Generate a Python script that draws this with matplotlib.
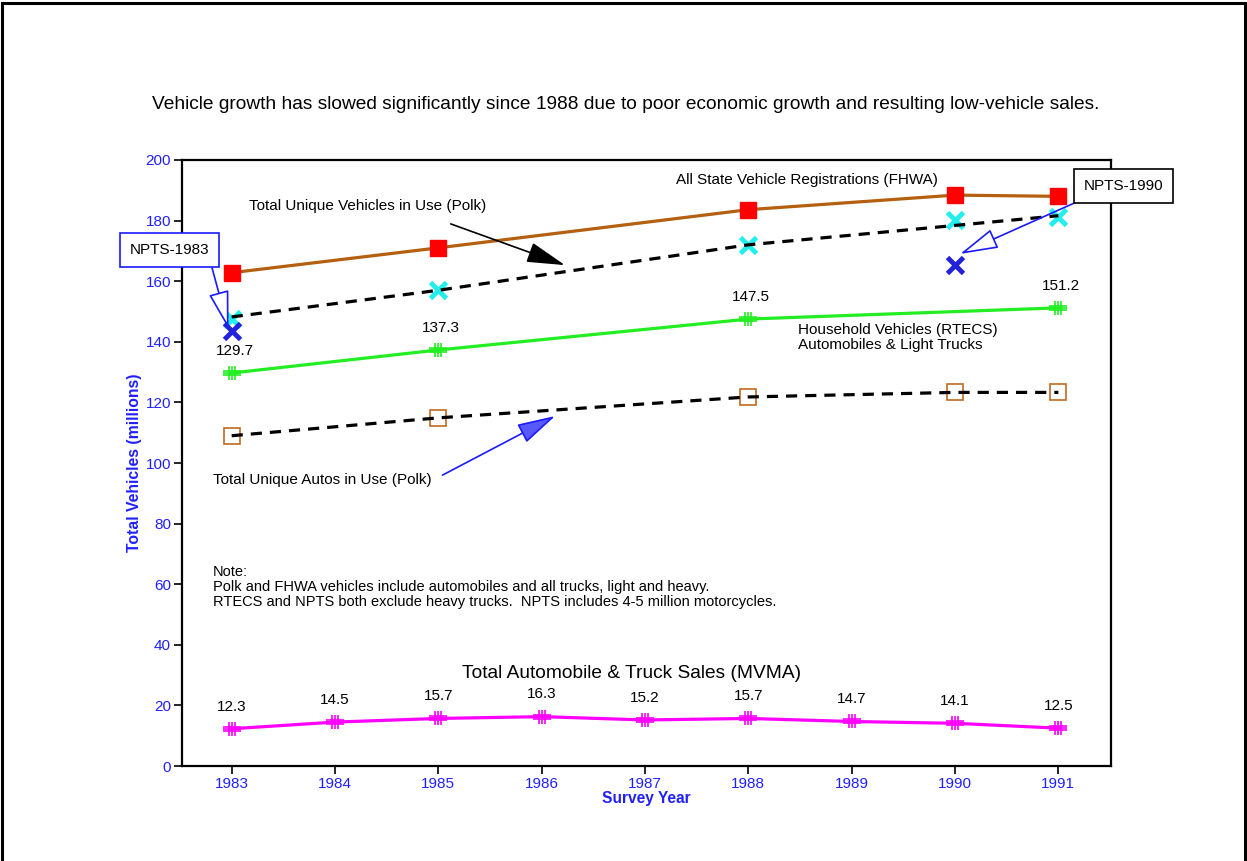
import matplotlib.pyplot as plt
from matplotlib.path import Path
from matplotlib.patches import Rectangle

plt.rcParams['font.family'] = ['Liberation Sans', 'DejaVu Sans']

years = [1983, 1984, 1985, 1986, 1987, 1988, 1989, 1990, 1991]

fhwa_years = [1983, 1985, 1988, 1990, 1991]
fhwa = [162.8, 171.0, 183.6, 188.4, 188.0]

polk_veh_years = [1983, 1985, 1988, 1990, 1991]
polk_veh = [147.6, 157.0, 172.0, 180.2, 181.3]
polk_veh_line_years = [1983, 1985, 1988, 1991]
polk_veh_line = [148.2, 157.0, 172.0, 181.6]

rtecs_years = [1983, 1985, 1988, 1991]
rtecs = [129.7, 137.3, 147.5, 151.2]

polk_auto_years = [1983, 1985, 1988, 1990, 1991]
polk_auto = [109.0, 114.9, 121.8, 123.3, 123.3]

npts_years = [1983, 1990]
npts = [143.7, 165.2]

sales = [12.3, 14.5, 15.7, 16.3, 15.2, 15.7, 14.7, 14.1, 12.5]

BLUE = '#2020ff'
FS = 11.0

# hash-like marker used for the RTECS and MVMA series
hv = [(-1, -0.25), (1, -0.25), (-1, 0), (1, 0), (-1, 0.25), (1, 0.25),
      (-0.3, -0.8), (-0.3, 0.8), (0, -0.8), (0, 0.8), (0.3, -0.8), (0.3, 0.8)]
hc = [Path.MOVETO, Path.LINETO] * 6
hash_marker = Path(hv, hc)

fig = plt.figure(figsize=(12.47, 8.61), dpi=100)
ax = fig.add_axes([0.146, 0.1103, 0.745, 0.7039])

ax.plot(fhwa_years, fhwa, '-', color='#b4600f', lw=2.3, zorder=3)
ax.plot(fhwa_years, fhwa, 's', color='#ff0000', ms=11, zorder=4)

ax.plot(polk_veh_line_years, polk_veh_line, '--', color='black', lw=2.3,
        dashes=(3.5, 2.5), zorder=3)
ax.plot(polk_veh_years, polk_veh, 'x', color='#22eeee', ms=12, mew=3.5, zorder=2)

ax.plot(rtecs_years, rtecs, '-', color='#22ee22', lw=2.3, zorder=3)
ax.plot(rtecs_years, rtecs, marker=hash_marker, ls='none', color='#22ee22',
        ms=13, mew=1.2, zorder=4)
for x, v in zip(rtecs_years, rtecs):
    ax.annotate(f'{v:.1f}', (x, v), xytext=(2, 16), textcoords='offset points',
                ha='center', va='center', fontsize=11)

ax.plot(polk_auto_years, polk_auto, 's', mfc='none', mec='#c06a20', ms=11,
        mew=1.2, zorder=2)
ax.plot(polk_auto_years, polk_auto, '--', color='black', lw=2.3,
        dashes=(3.5, 2.5), zorder=3)

ax.plot(npts_years, npts, 'x', color='#2222dd', ms=12, mew=3.5, zorder=4)

ax.plot(years, sales, '-', color='#ff00ff', lw=2.3, zorder=3)
ax.plot(years, sales, marker=hash_marker, ls='none', color='#ff00ff',
        ms=13, mew=1.2, zorder=4)
for x, v in zip(years, sales):
    ax.annotate(f'{v:.1f}', (x, v), xytext=(0, 16), textcoords='offset points',
                ha='center', va='center', fontsize=11)

ax.set_xlim(1982.52, 1991.51)
ax.set_ylim(0, 200)
ax.set_xticks(years)
ax.set_xticklabels([str(y) for y in years])
ax.set_yticks(range(0, 201, 20))
ax.tick_params(direction='out', length=6, width=1.2, labelcolor=BLUE,
               labelsize=11, pad=2)
for s in ax.spines.values():
    s.set_linewidth(1.6)

# text labels
ax.text(1983.165, 184.8, 'Total Unique Vehicles in Use (Polk)', fontsize=FS,
        va='center')
ax.text(1987.30, 193.4, 'All State Vehicle Registrations (FHWA)', fontsize=FS,
        va='center')
ax.text(1988.48, 141.3, 'Household Vehicles (RTECS)\nAutomobiles & Light Trucks',
        fontsize=FS, va='center', linespacing=1.1)
ax.text(1982.816, 94.4, 'Total Unique Autos in Use (Polk)', fontsize=FS,
        va='center')
ax.text(1982.816, 59.1,
        'Note:\nPolk and FHWA vehicles include automobiles and all trucks, light and heavy.\n'
        'RTECS and NPTS both exclude heavy trucks.  NPTS includes 4-5 million motorcycles.',
        fontsize=10.5, va='center', linespacing=1.12)
ax.text(1986.87, 30.7, 'Total Automobile & Truck Sales (MVMA)', fontsize=13.8,
        ha='center', va='center')

# arrows
head = '-|>,head_length=1.2,head_width=0.32'
ax.annotate('', xy=(1986.225, 165.3), xytext=(1985.12, 178.9),
            arrowprops=dict(arrowstyle=head, color='black', lw=1.2,
                            mutation_scale=20, shrinkA=0, shrinkB=0))
ax.annotate('', xy=(1986.13, 115.5), xytext=(1985.04, 96.0),
            arrowprops=dict(arrowstyle=head, ec='#1a1aff', fc='#5858ff', lw=1.2,
                            mutation_scale=20, shrinkA=0, shrinkB=0))
ax.annotate('', xy=(1982.97, 144.3), xytext=(1982.81, 164.4),
            arrowprops=dict(arrowstyle=head, ec='#1a1aff', fc='white', lw=1.2,
                            mutation_scale=20, shrinkA=0, shrinkB=0),
            annotation_clip=False)
ax.annotate('', xy=(1990.05, 169.0), xytext=(1991.155, 185.8),
            arrowprops=dict(arrowstyle=head, ec='#1a1aff', fc='white', lw=1.2,
                            mutation_scale=20, shrinkA=0, shrinkB=0),
            annotation_clip=False)

ax.text(1982.40, 170.3, 'NPTS-1983', fontsize=FS, ha='center', va='center',
        bbox=dict(boxstyle='square,pad=0.65', fc='white', ec='#1a1aff', lw=1.2),
        clip_on=False, zorder=6)
ax.text(1991.63, 191.4, 'NPTS-1990', fontsize=FS, ha='center', va='center',
        bbox=dict(boxstyle='square,pad=0.65', fc='white', ec='black', lw=1.2),
        clip_on=False, zorder=6)

fig.text(0.502, 0.879,
         'Vehicle growth has slowed significantly since 1988 due to poor economic '
         'growth and resulting low-vehicle sales.',
         ha='center', va='center', fontsize=13.8)
fig.text(0.108, 0.462, 'Total Vehicles (millions)', rotation=90, ha='center',
         va='center', fontsize=11.3, fontweight='bold', color=BLUE)
fig.text(0.5185, 0.0725, 'Survey Year', ha='center', va='center',
         fontsize=11.2, fontweight='bold', color=BLUE)

fig.add_artist(Rectangle((0.002, -0.1), 0.996, 1.097, transform=fig.transFigure,
                         fill=False, ec='black', lw=2.2))

fig.savefig('out.png', dpi=100)
